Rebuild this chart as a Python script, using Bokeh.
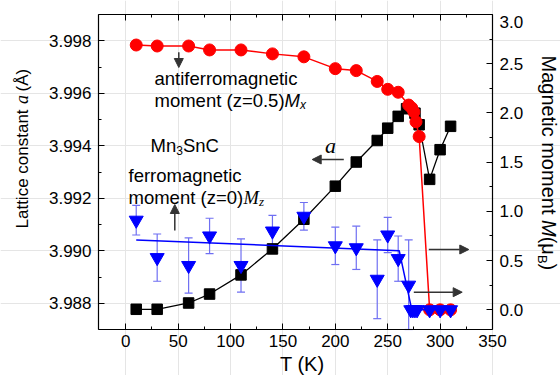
from math import pi
from bokeh.plotting import figure
from bokeh.models import (Range1d, LinearAxis, FixedTicker, NumeralTickFormatter,
                          Label, Arrow, NormalHead, Whisker, TeeHead, ColumnDataSource)
from bokeh.embed import file_html
from bokeh.resources import INLINE

# ---------------- data ----------------
# lattice constant a (left axis)
T_a = [10, 30, 60, 80, 110, 140, 170, 200, 220, 240, 250, 260, 268, 276, 280, 290, 300, 310]
a_vals = [3.98777, 3.98777, 3.98801, 3.98835, 3.98908, 3.99007, 3.99120, 3.99246, 3.99338,
          3.99420, 3.99467, 3.99512, 3.99541, 3.99524, 3.99480, 3.99272, 3.99385, 3.99474]

# antiferromagnetic moment Mx (right axis)
T_afm = [10, 30, 60, 80, 110, 140, 170, 200, 220, 240, 250, 260, 270, 273, 275, 277, 280, 290, 300, 310]
M_afm = [2.69, 2.68, 2.68, 2.64, 2.64, 2.60, 2.57, 2.45, 2.43, 2.32, 2.24, 2.21, 2.08, 2.05,
         2.01, 1.91, 1.76, 0.0, 0.0, 0.0]

# ferromagnetic moment Mz (right axis)
T_fm = [10, 30, 60, 80, 110, 140, 170, 200, 220, 240, 250, 260, 270, 272, 274, 276, 278, 290, 300, 310]
M_fm = [0.91, 0.53, 0.45, 0.75, 0.45, 0.80, 0.95, 0.65, 0.63, 0.31, 0.76, 0.52, 0.25, 0.0,
        0.0, 0.0, 0.0, 0.0, 0.0, 0.0]
M_fm_err = [0.15, 0.24, 0.28, 0.18, 0.27, 0.16, 0.14, 0.19, 0.22, 0.40, 0.18, 0.23, 0.46, 0.0,
            0.0, 0.0, 0.0, 0.0, 0.0, 0.0]

# guide line through Mz
T_fit = [10, 261, 273, 315]
M_fit = [0.71, 0.60, 0.0, 0.0]

x_ticks = [0, 50, 100, 150, 200, 250, 300, 350]
x_minor = [25, 75, 125, 175, 225, 275, 325]
a_ticks = [3.988, 3.990, 3.992, 3.994, 3.996, 3.998]
a_minor = [3.987, 3.989, 3.991, 3.993, 3.995, 3.997, 3.999]
m_ticks = [0.0, 0.5, 1.0, 1.5, 2.0, 2.5]
m_top_label = "3.0"
m_minor = [0.25, 0.75, 1.25, 1.75, 2.25, 2.75, 3.0]

# ---------------- geometry (canvas pixels) ----------------
W, H = 560, 375
FL, FR, FT, FB = 98, 492, 14, 329     # plot box edges
X0, X1 = -26, 350
A0, A1 = 3.987, 3.999
M0, M1 = -0.2, 3.0

def ext(lo, hi, p_lo, p_hi, size, flip=False):
    # ranges covering the whole canvas so that [lo, hi] spans pixels [p_lo, p_hi]
    k = (hi - lo) / (p_hi - p_lo)
    if flip:
        return lo - (size - p_hi) * k, hi + p_lo * k
    return lo - p_lo * k, hi + (size - p_hi) * k

xs, xe = ext(X0, X1, FL, FR, W)
as_, ae = ext(A0, A1, FT, FB, H, flip=True)
ms, me = ext(M0, M1, FT, FB, H, flip=True)

def dx(px):
    return xs + px / W * (xe - xs)

def dy(py):
    return ae - py / H * (ae - as_)

p = figure(width=W, height=H, x_range=Range1d(xs, xe), y_range=Range1d(as_, ae),
           output_backend="svg", toolbar_location=None, min_border=0,
           x_axis_location=None, y_axis_location=None)
p.extra_y_ranges = {"m": Range1d(ms, me)}
p.outline_line_color = None
p.background_fill_color = "white"
p.border_fill_color = "white"

FONT = "Liberation Sans"
SERIF = "Liberation Serif"

def make_axis(ticks, minor, fmt, loc, bounds, labels=True, standoff=7, **kw):
    ax = LinearAxis(ticker=FixedTicker(ticks=ticks, minor_ticks=minor),
                    fixed_location=loc, bounds=bounds, **kw)
    if fmt:
        ax.formatter = NumeralTickFormatter(format=fmt)
    ax.axis_line_color = "black"
    ax.axis_line_width = 1.2
    ax.major_tick_line_color = "black"
    ax.minor_tick_line_color = "black"
    ax.major_tick_in = 6
    ax.major_tick_out = 0
    ax.minor_tick_in = 3
    ax.minor_tick_out = 0
    ax.major_label_text_font = FONT
    if labels:
        ax.major_label_text_font_size = "17px"
        ax.major_label_text_color = "black"
        ax.major_label_standoff = standoff
    else:
        ax.major_label_text_font_size = "0px"
        ax.major_label_text_color = None
        ax.major_label_standoff = 0
    return ax

p.add_layout(make_axis(x_ticks, x_minor, "0", A0, (X0, X1), standoff=5), "below")
p.add_layout(make_axis(x_ticks, x_minor, "0", A1, (X0, X1), labels=False), "above")
p.add_layout(make_axis(a_ticks, a_minor, "0.000", X0, (A0, A1)), "left")
p.add_layout(make_axis(m_ticks, m_minor, "0.0", X1, (M0, M1), y_range_name="m"), "right")

# ---------------- glyphs ----------------
BLUE = "#0000ff"
ERR = "#6f6ff2"

src_err = ColumnDataSource(dict(
    T=[t for t, e in zip(T_fm, M_fm_err) if e > 0],
    lo=[max(M0, m - e) for m, e in zip(M_fm, M_fm_err) if e > 0],
    hi=[m + e for m, e in zip(M_fm, M_fm_err) if e > 0],
))
wh = Whisker(source=src_err, base="T", lower="lo", upper="hi", dimension="height",
             y_range_name="m", line_color=ERR, line_width=1.2, level="underlay",
             lower_head=TeeHead(size=8, line_color=ERR, line_width=1.2),
             upper_head=TeeHead(size=8, line_color=ERR, line_width=1.2))
p.add_layout(wh)

p.line(T_a, a_vals, line_color="black", line_width=1.3)
p.scatter(T_a, a_vals, marker="square", size=10.5, fill_color="black", line_color="black")

p.line(T_afm, M_afm, y_range_name="m", line_color="#ff0000", line_width=1.5)
p.scatter(T_afm, M_afm, y_range_name="m", marker="circle", size=12,
          fill_color="#ff0000", line_color="#ff0000")

p.line(T_fit, M_fit, y_range_name="m", line_color=BLUE, line_width=1.5)
p.scatter(T_fm, M_fm, y_range_name="m", marker="inverted_triangle", size=14,
          fill_color=BLUE, line_color=BLUE)

# ---------------- texts ----------------
def lab(text, px, py, size, style="normal", font=FONT, angle=0.0, align="left"):
    p.add_layout(Label(x=dx(px), y=dy(py), text=text, text_font=font,
                       text_font_size=f"{size}px", text_font_style=style,
                       text_align=align, text_baseline="middle", angle=angle,
                       text_color="black"))

# top tick label of the right axis (sits a little below its tick, as in the original)
lab(m_top_label, 499, 21, 17)

AS = 18.5
lab("antiferromagnetic", 154, 78, AS)
lab("moment (z=0.5)", 154, 100, AS)
lab("M", 284, 100, AS, style="italic")
lab("x", 299.5, 104, 12, style="italic")

lab("Mn", 150, 145, AS)
lab("3", 175.7, 150, 12)
lab("SnC", 182.4, 145, AS)

lab("ferromagnetic", 128, 175, AS)
lab("moment (z=0)", 128, 197, AS)
lab("M", 243, 197, AS, style="italic", font=SERIF)
lab("z", 258.4, 201, 13, style="italic", font=SERIF)

lab("a", 330, 145, 22, style="italic", font=SERIF, align="center")

# axis titles
lab("T (K)", 301.7, 363, 20, align="center")

lab("Lattice constant ", 21.7, 228, 17, angle=pi / 2)
lab("a", 21.7, 103.5, 18, style="italic", font=SERIF, angle=pi / 2)
lab("(\u00c5)", 21.7, 91, 17, angle=pi / 2)

lab("Magnetic moment ", 548, 55, 20, angle=-pi / 2)
lab("M", 548, 219.5, 20, style="italic", angle=-pi / 2)
lab("(\u03bc", 548, 236.2, 20, angle=-pi / 2)
lab("B", 542, 254.4, 13, angle=-pi / 2)
lab(")", 548, 263.1, 20, angle=-pi / 2)

# arrows
AC = "#333333"
def arrow(x1, y1, x2, y2):
    p.add_layout(Arrow(x_start=dx(x1), y_start=dy(y1), x_end=dx(x2), y_end=dy(y2),
                       line_color=AC, line_width=1.5,
                       end=NormalHead(size=9, fill_color=AC, line_color=AC)))

arrow(178.3, 51.7, 178.3, 67)
arrow(174.3, 230, 174.3, 204)
arrow(343.3, 159, 311.7, 159)
arrow(428.3, 249, 468.3, 249)
arrow(413.3, 291.7, 461.7, 291.7)

open("out.html", "w").write(file_html(p, INLINE))
